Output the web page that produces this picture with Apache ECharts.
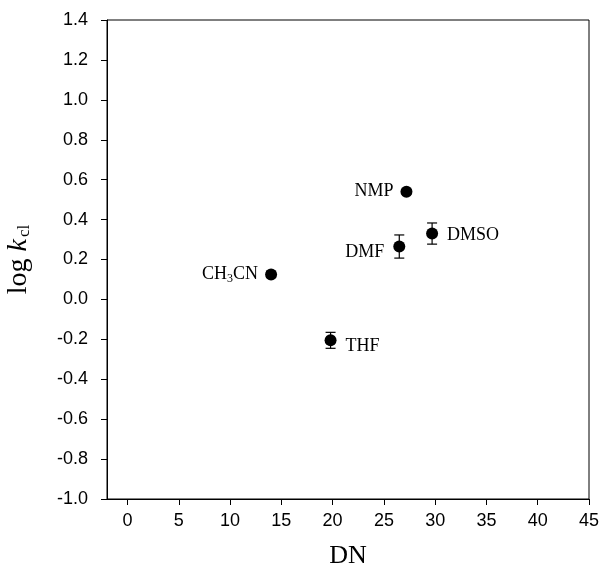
<!DOCTYPE html>
<html>
<head>
<meta charset="utf-8">
<script src="https://cdn.jsdelivr.net/npm/echarts@6/dist/echarts.min.js"></script>
<style>
  html, body { margin: 0; padding: 0; background: #fff; }
  #chart { width: 602px; height: 577px; }
</style>
</head>
<body>
<div id="chart"></div>
<script>
// solvent data
const solvents = ['CH3CN', 'THF', 'DMF', 'NMP', 'DMSO'];
const dn = [14.0, 19.8, 26.5, 27.2, 29.7];
const logK = [0.125, -0.205, 0.265, 0.54, 0.33];
const errs = [0.015, 0.04, 0.058, 0.012, 0.053];
const xTicks = [0, 5, 10, 15, 20, 25, 30, 35, 40, 45];

const serif = '"Liberation Serif", "Times New Roman", serif';
const sans = '"Liberation Sans", Arial, sans-serif';

// label placement per point (left / right of the marker)
const labelSide = { CH3CN: 'left', THF: 'right', DMF: 'left', NMP: 'left', DMSO: 'right' };
const labelShift = { CH3CN: [0, 0], THF: [2, 6], DMF: [-2, 6], NMP: [0, 0], DMSO: [2, 2] };

const pts = [];
for (let i = 0; i < solvents.length; i++) {
  const name = solvents[i];
  pts.push({
    value: [dn[i], logK[i]],
    name: name,
    label: {
      show: true,
      position: labelSide[name],
      distance: 7,
      offset: labelShift[name],
      formatter: name === 'CH3CN' ? 'CH{sub|3}CN' : name
    }
  });
}

const errData = [];
for (let i = 0; i < dn.length; i++) {
  errData.push([dn[i], logK[i] - errs[i], logK[i] + errs[i]]);
}

let chart = echarts.init(document.getElementById('chart'));
chart.setOption({
  animation: false,
  backgroundColor: '#fff',
  grid: {
    left: 107, right: 13, top: 20, bottom: 78,
    outerBoundsMode: 'none',
    containLabel: false,
    show: true, borderColor: '#000', borderWidth: 1
  },
  xAxis: {
    type: 'value',
    min: -2, max: 45, interval: 1,
    name: 'DN',
    nameLocation: 'middle',
    nameGap: 44,
    nameTextStyle: { fontFamily: serif, fontSize: 26, color: '#000' },
    axisLine: { show: true, onZero: false, lineStyle: { color: '#000', width: 1 } },
    axisTick: { show: true, inside: false, length: 6, customValues: xTicks, lineStyle: { color: '#000' } },
    axisLabel: {
      customValues: xTicks,
      margin: 13,
      fontFamily: sans, fontSize: 18, color: '#000'
    },
    splitLine: { show: false }
  },
  yAxis: {
    type: 'value',
    min: -1.0, max: 1.4, interval: 0.2,
    name: 'log {i|k}{sub|cl}',
    nameLocation: 'middle',
    nameRotate: 90,
    nameGap: 74,
    nameTextStyle: {
      fontFamily: serif, fontSize: 28, color: '#000',
      rich: {
        i: { fontFamily: serif, fontSize: 28, fontStyle: 'italic', color: '#000' },
        sub: { fontFamily: serif, fontSize: 17, color: '#000', verticalAlign: 'bottom', padding: [12, 0, 0, 2] }
      }
    },
    axisLine: { show: true, onZero: false, lineStyle: { color: '#000', width: 1 } },
    axisTick: { show: true, inside: false, length: 6, lineStyle: { color: '#000' } },
    axisLabel: {
      margin: 19,
      fontFamily: sans, fontSize: 18, color: '#000',
      formatter: function (v) { return v.toFixed(1); }
    },
    splitLine: { show: false }
  },
  series: [
    {
      type: 'custom',
      data: errData,
      z: 2,
      renderItem: function (params, api) {
        const x = api.value(0);
        const lo = api.coord([x, api.value(1)]);
        const hi = api.coord([x, api.value(2)]);
        const cap = 5;
        const st = { stroke: '#000', lineWidth: 1.2 };
        return {
          type: 'group',
          children: [
            { type: 'line', shape: { x1: lo[0], y1: lo[1], x2: hi[0], y2: hi[1] }, style: st },
            { type: 'line', shape: { x1: lo[0] - cap, y1: lo[1], x2: lo[0] + cap, y2: lo[1] }, style: st },
            { type: 'line', shape: { x1: hi[0] - cap, y1: hi[1], x2: hi[0] + cap, y2: hi[1] }, style: st }
          ]
        };
      }
    },
    {
      type: 'scatter',
      data: pts,
      z: 3,
      symbol: 'circle',
      symbolSize: 12,
      itemStyle: { color: '#000', opacity: 1 },
      label: {
        fontFamily: serif, fontSize: 18, color: '#000',
        rich: {
          sub: { fontFamily: serif, fontSize: 12, color: '#000', padding: [8, 0, 0, 0] }
        }
      },
      emphasis: { disabled: true }
    }
  ]
});
</script>
</body>
</html>
